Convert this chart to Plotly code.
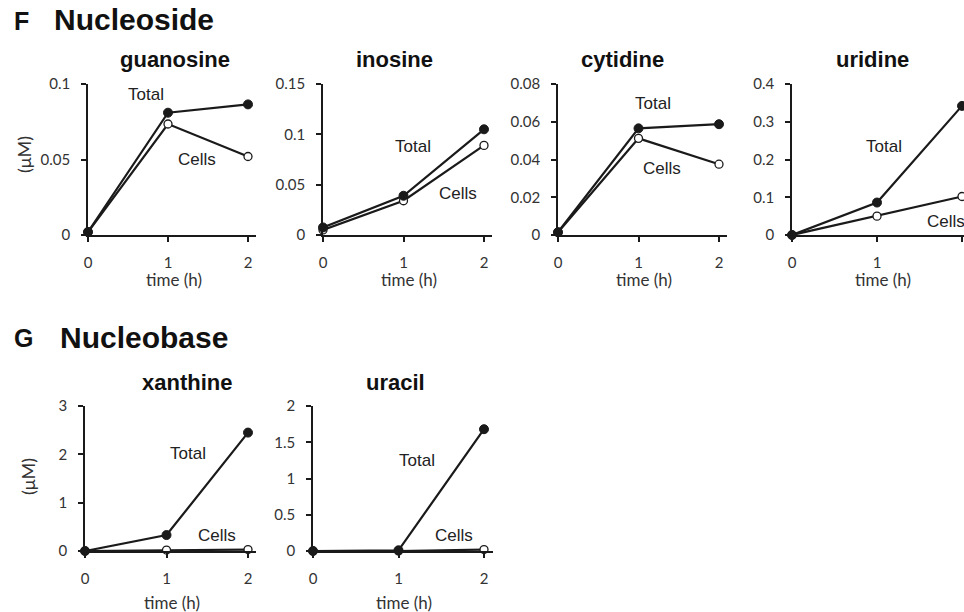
import plotly.graph_objects as go

W, H = 964, 612

# ---------------- data ----------------
time_h = [0, 1, 2]

guanosine_total = [0.002, 0.081, 0.0865]
guanosine_cells = [0.002, 0.0735, 0.052]
inosine_total = [0.0075, 0.039, 0.105]
inosine_cells = [0.005, 0.034, 0.089]
cytidine_total = [0.0015, 0.0565, 0.0587]
cytidine_cells = [0.0015, 0.0512, 0.0375]
uridine_total = [0.0, 0.086, 0.342]
uridine_cells = [0.0, 0.050, 0.102]
xanthine_total = [0.0, 0.33, 2.45]
xanthine_cells = [0.0, 0.02, 0.03]
uracil_total = [0.0, 0.01, 1.68]
uracil_cells = [0.0, 0.0, 0.02]

panel_titles = ["guanosine", "inosine", "cytidine", "uridine", "xanthine", "uracil"]
y_max = [0.1, 0.15, 0.08, 0.4, 3, 2]
y_step = [0.05, 0.05, 0.02, 0.1, 1, 0.5]
x_ticks = [0, 1, 2]

totals = [guanosine_total, inosine_total, cytidine_total, uridine_total, xanthine_total, uracil_total]
cells = [guanosine_cells, inosine_cells, cytidine_cells, uridine_cells, xanthine_cells, uracil_cells]

# ---------------- layout geometry (pixels) ----------------
# (x of time 0, px per hour, y top, y bottom)
geom = [
    (88, 80.0, 84, 235),
    (323, 80.5, 84, 235),
    (558, 80.5, 84, 235),
    (792, 85.0, 84, 235),
    (85, 81.5, 406, 551),
    (313, 85.5, 406, 551),
]
title_pos = [(175, 60), (394, 60), (622, 60), (872, 60), (187, 382), (395, 382)]
total_lbl = [(146, 94), (413, 146), (653, 103), (884, 146), (188, 453), (417, 460)]
cells_lbl = [(197, 160), (458, 193), (662, 168), (946, 221), (217, 535), (454, 535)]


def px(x):
    return x / W


def py(y):
    return 1 - y / H


INK = "#1a1a1a"
TICK_FONT = dict(family="Lato, Open Sans, sans-serif", size=15, color="#333333")
XT_FONT = dict(family="Lato, Open Sans, sans-serif", size=17, color="#333333")
LBL_FONT = dict(family="Liberation Sans, Arial, sans-serif", size=17, color="#222222")

fig = go.Figure()
annotations = []


def note(text, x, y, font, xanchor="center", **kw):
    annotations.append(dict(text=text, x=px(x), y=py(y), xref="paper", yref="paper",
                            showarrow=False, xanchor=xanchor, yanchor="middle", font=font, **kw))


for i in range(6):
    x0, unit, ytop, ybot = geom[i]
    xr_px = min(x0 + 2.1 * unit, W)
    xmax = (xr_px - x0) / unit
    idx = "" if i == 0 else str(i + 1)
    xa = "x" + idx
    ya = "y" + idx

    fig.add_trace(go.Scatter(
        x=time_h, y=cells[i], mode="lines+markers", xaxis=xa, yaxis=ya,
        line=dict(color=INK, width=2.2),
        marker=dict(symbol="circle", size=8, color="white", line=dict(color=INK, width=1.3)),
        cliponaxis=False, showlegend=False, hoverinfo="skip"))
    fig.add_trace(go.Scatter(
        x=time_h, y=totals[i], mode="lines+markers", xaxis=xa, yaxis=ya,
        line=dict(color=INK, width=2.2),
        marker=dict(symbol="circle", size=9, color=INK, line=dict(color=INK, width=1)),
        cliponaxis=False, showlegend=False, hoverinfo="skip"))

    common = dict(showgrid=False, zeroline=False, showline=True, linecolor=INK, linewidth=1.5,
                  ticks="outside", ticklen=5, tickwidth=1.5, tickcolor=INK, tickfont=TICK_FONT,
                  fixedrange=True, automargin=False)
    fig.update_layout(**{
        ("xaxis" + idx): dict(domain=[px(x0), px(xr_px)], range=[0, xmax], anchor=ya,
                              tickvals=x_ticks, ticklabelstandoff=8, **common),
        ("yaxis" + idx): dict(domain=[py(ybot), py(ytop)], range=[0, y_max[i]], anchor=xa,
                              tick0=0, dtick=y_step[i], ticklabelstandoff=8, **common),
    })

    tx, ty = title_pos[i]
    note("<b>" + panel_titles[i] + "</b>", tx, ty,
         dict(family="Liberation Sans, Arial, sans-serif", size=22, color="#111111"))
    note("time (h)", x0 + 1.07 * unit, ybot + 45 if i < 4 else ybot + 51, XT_FONT)
    lx, ly = total_lbl[i]
    note("Total", lx, ly, LBL_FONT)
    lx, ly = cells_lbl[i]
    note("Cells", lx, ly, LBL_FONT)

# y axis labels
for (yx, yy) in [(24, 155), (28, 477)]:
    note("(μM)", yx, yy, dict(family="Lato, Open Sans, sans-serif", size=18, color="#333333"), textangle=-90)

# section headers
HDR = dict(family="Liberation Sans, Arial, sans-serif", color="#111111")
note("<b>F</b>", 12, 21, dict(size=25, **HDR), xanchor="left")
note("<b>Nucleoside</b>", 52, 20, dict(size=30, **HDR), xanchor="left")
note("<b>G</b>", 12, 338, dict(size=25, **HDR), xanchor="left")
note("<b>Nucleobase</b>", 58, 337, dict(size=30, **HDR), xanchor="left")

fig.update_layout(width=W, height=H, margin=dict(l=0, r=0, t=0, b=0, autoexpand=False),
                  paper_bgcolor="white", plot_bgcolor="white", annotations=annotations)

fig.write_html("out.html", config={"displayModeBar": False},
               post_script="document.body.style.margin='0px';document.body.style.overflow='hidden';")
